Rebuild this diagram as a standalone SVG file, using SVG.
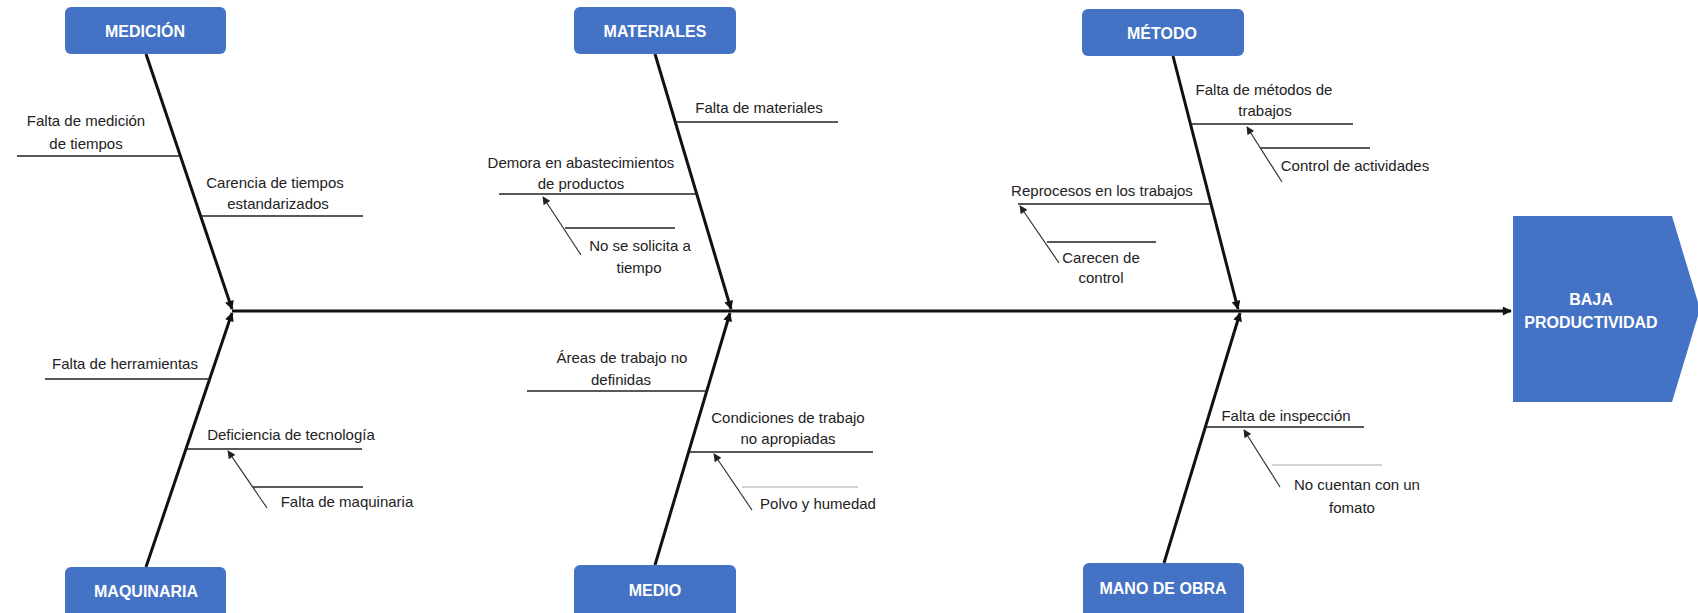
<svg xmlns="http://www.w3.org/2000/svg" width="1698" height="613" viewBox="0 0 1698 613">
<defs>
<style>
.box{fill:#4472C4;}
.bt{font-family:"Liberation Sans",Arial,sans-serif;font-weight:bold;font-size:16px;fill:#ffffff;text-anchor:middle;dominant-baseline:central;}
.t{font-family:"Liberation Sans",Arial,sans-serif;font-size:15px;fill:#222222;text-anchor:middle;dominant-baseline:central;}
.main{stroke:#111;stroke-width:3;fill:none;}
.sub{stroke:#222;stroke-width:1.5;fill:none;}
.sub2{stroke:#222;stroke-width:1.3;fill:none;}
.sub3{stroke:#aaaaaa;stroke-width:1.2;fill:none;}
.arr{stroke:#333;stroke-width:1.2;fill:none;}
</style>
<marker id="mh" viewBox="0 0 10 10" refX="9" refY="5" markerWidth="10" markerHeight="9" markerUnits="userSpaceOnUse" orient="auto">
<path d="M0,0 L10,5 L0,10 z" fill="#111"/>
</marker>
<marker id="sh" viewBox="0 0 10 10" refX="9" refY="5" markerWidth="9" markerHeight="8" markerUnits="userSpaceOnUse" orient="auto">
<path d="M0,0 L10,5 L0,10 z" fill="#222"/>
</marker>
</defs>
<rect width="1698" height="613" fill="#ffffff"/>

<g id="connectors">
<line class="main" x1="232" y1="311" x2="1511" y2="311" marker-end="url(#mh)"/>
<line class="main" x1="146" y1="54" x2="232" y2="309" marker-end="url(#mh)"/>
<line class="main" x1="655" y1="54" x2="731" y2="309" marker-end="url(#mh)"/>
<line class="main" x1="1173" y1="56" x2="1238" y2="309" marker-end="url(#mh)"/>
<line class="main" x1="146" y1="567" x2="232" y2="313" marker-end="url(#mh)"/>
<line class="main" x1="655" y1="565" x2="730" y2="313" marker-end="url(#mh)"/>
<line class="main" x1="1164" y1="563" x2="1240" y2="313" marker-end="url(#mh)"/>
</g>

<g id="head">
<polygon class="box" points="1513,216 1672,216 1700,309 1672,402 1513,402"/>
<text class="bt" x="1591" y="299">BAJA</text>
<text class="bt" x="1591" y="322">PRODUCTIVIDAD</text>
</g>

<g id="medicion">
<rect class="box" x="65" y="7" width="161" height="47" rx="6"/>
<text class="bt" x="145" y="31">MEDICIÓN</text>
<line class="sub" x1="17" y1="156" x2="180" y2="156"/>
<text class="t" x="86" y="120">Falta de medición</text>
<text class="t" x="86" y="143">de tiempos</text>
<line class="sub" x1="201" y1="216" x2="363" y2="216"/>
<text class="t" x="275" y="182">Carencia de tiempos</text>
<text class="t" x="278" y="203">estandarizados</text>
</g>

<g id="materiales">
<rect class="box" x="574" y="7" width="162" height="47" rx="6"/>
<text class="bt" x="655" y="31">MATERIALES</text>
<line class="sub" x1="675" y1="122" x2="838" y2="122"/>
<text class="t" x="759" y="107">Falta de materiales</text>
<line class="sub" x1="499" y1="194" x2="697" y2="194"/>
<text class="t" x="581" y="162">Demora en abastecimientos</text>
<text class="t" x="581" y="183">de productos</text>
<line class="sub2" x1="565" y1="228" x2="675" y2="228"/>
<line class="arr" x1="581" y1="255" x2="543" y2="197" marker-end="url(#sh)"/>
<text class="t" x="640" y="245">No se solicita a</text>
<text class="t" x="639" y="267">tiempo</text>
</g>

<g id="metodo">
<rect class="box" x="1082" y="9" width="162" height="47" rx="6"/>
<text class="bt" x="1162" y="33">MÉTODO</text>
<line class="sub" x1="1190" y1="124" x2="1353" y2="124"/>
<text class="t" x="1264" y="89">Falta de métodos de</text>
<text class="t" x="1265" y="110">trabajos</text>
<line class="sub2" x1="1260" y1="148" x2="1370" y2="148"/>
<line class="arr" x1="1282" y1="182" x2="1247" y2="127" marker-end="url(#sh)"/>
<text class="t" x="1355" y="165">Control de actividades</text>
<line class="sub" x1="1018" y1="204" x2="1211" y2="204"/>
<text class="t" x="1102" y="190">Reprocesos en los trabajos</text>
<line class="sub2" x1="1047" y1="242" x2="1156" y2="242"/>
<line class="arr" x1="1059" y1="263" x2="1020" y2="206" marker-end="url(#sh)"/>
<text class="t" x="1101" y="257">Carecen de</text>
<text class="t" x="1101" y="277">control</text>
</g>

<g id="maquinaria">
<rect class="box" x="65" y="567" width="161" height="52" rx="6"/>
<text class="bt" x="146" y="591">MAQUINARIA</text>
<line class="sub" x1="45" y1="379" x2="210" y2="379"/>
<text class="t" x="125" y="363">Falta de herramientas</text>
<line class="sub" x1="186" y1="449" x2="362" y2="449"/>
<text class="t" x="291" y="434">Deficiencia de tecnología</text>
<line class="sub2" x1="253" y1="487" x2="363" y2="487"/>
<line class="arr" x1="267" y1="508" x2="228" y2="451" marker-end="url(#sh)"/>
<text class="t" x="347" y="501">Falta de maquinaria</text>
</g>

<g id="medio">
<rect class="box" x="574" y="565" width="162" height="54" rx="6"/>
<text class="bt" x="655" y="590">MEDIO</text>
<line class="sub" x1="527" y1="391" x2="707" y2="391"/>
<text class="t" x="622" y="357">Áreas de trabajo no</text>
<text class="t" x="621" y="379">definidas</text>
<line class="sub" x1="689" y1="452" x2="873" y2="452"/>
<text class="t" x="788" y="417">Condiciones de trabajo</text>
<text class="t" x="788" y="438">no apropiadas</text>
<line class="sub3" x1="742" y1="487" x2="858" y2="487"/>
<line class="arr" x1="752" y1="510" x2="714" y2="454" marker-end="url(#sh)"/>
<text class="t" x="818" y="503">Polvo y humedad</text>
</g>

<g id="mano-de-obra">
<rect class="box" x="1083" y="563" width="161" height="56" rx="6"/>
<text class="bt" x="1163" y="588">MANO DE OBRA</text>
<line class="sub" x1="1205" y1="427" x2="1364" y2="427"/>
<text class="t" x="1286" y="415">Falta de inspección</text>
<line class="sub3" x1="1272" y1="465" x2="1382" y2="465"/>
<line class="arr" x1="1280" y1="487" x2="1244" y2="430" marker-end="url(#sh)"/>
<text class="t" x="1357" y="484">No cuentan con un</text>
<text class="t" x="1352" y="507">fomato</text>
</g>
</svg>
